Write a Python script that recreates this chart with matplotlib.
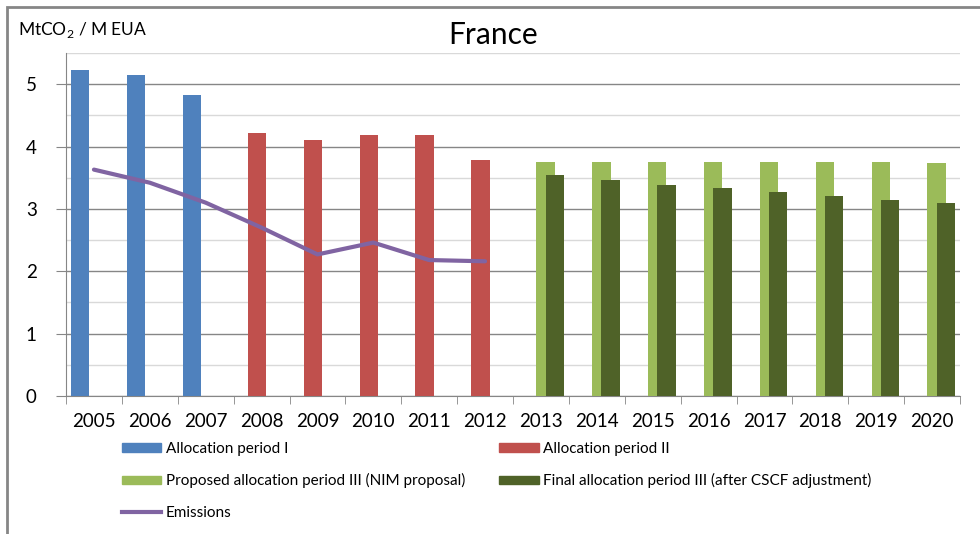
import numpy as np
import matplotlib
matplotlib.use("Agg")
import matplotlib.pyplot as plt
from matplotlib.patches import Patch, Rectangle
from matplotlib.lines import Line2D

plt.rcParams['font.family'] = ['Lato', 'DejaVu Sans']
plt.rcParams['mathtext.fontset'] = 'custom'
plt.rcParams['mathtext.rm'] = 'Lato'

# data
years = ['2005', '2006', '2007', '2008', '2009', '2010', '2011', '2012',
         '2013', '2014', '2015', '2016', '2017', '2018', '2019', '2020']
alloc_1 = [5.22, 5.14, 4.83] + [None] * 13
alloc_2 = [None] * 3 + [4.21, 4.10, 4.18, 4.18, 3.79] + [None] * 8
proposed_3 = [None] * 8 + [3.75, 3.75, 3.75, 3.75, 3.75, 3.75, 3.75, 3.73]
final_3 = [None] * 8 + [3.54, 3.46, 3.39, 3.34, 3.27, 3.21, 3.15, 3.09]
emissions = [3.63, 3.42, 3.10, 2.70, 2.27, 2.46, 2.18, 2.16] + [None] * 8

series = [
    ('Allocation period I', alloc_1, '#4F81BD'),
    ('Allocation period II', alloc_2, '#C0504D'),
    ('Proposed allocation period III (NIM proposal)', proposed_3, '#9BBB59'),
    ('Final allocation period III (after CSCF adjustment)', final_3, '#4F6228'),
]
line_color = '#8064A2'

fig = plt.figure(figsize=(9.8, 5.34), dpi=100)
ax = fig.add_axes([66 / 980, 1 - 396 / 534, 894 / 980, 343 / 534])

# outer chart frame
fig.patches.append(Rectangle((7 / 980, -0.1), 1.1, 1 - 7 / 534 + 0.1,
                             transform=fig.transFigure, fill=False,
                             edgecolor='#868686', linewidth=2))

x = np.arange(len(years))
width = 0.33
offsets = [-0.247, -0.082, 0.082, 0.247]
for (label, vals, color), off in zip(series, offsets):
    idx = [i for i, v in enumerate(vals) if v is not None]
    ax.bar(x[idx] + off, [vals[i] for i in idx], width, color=color, zorder=3)

e_idx = [i for i, v in enumerate(emissions) if v is not None]
ax.plot(x[e_idx], [emissions[i] for i in e_idx], color=line_color, lw=3, zorder=4,
        solid_capstyle='round')

ax.set_xlim(-0.5, len(years) - 0.5)
ax.set_ylim(0, 5.5)
ax.set_yticks(range(6))
ax.set_yticks(np.arange(0.5, 5.6, 1.0), minor=True)
ax.set_xticks(x)
ax.set_xticklabels(years)
ax.set_xticks(np.arange(-0.5, len(years), 1.0), minor=True)

ax.grid(axis='y', which='major', color='#868686', lw=1, zorder=0)
ax.grid(axis='y', which='minor', color='#D9D9D9', lw=1, zorder=0)
ax.tick_params(axis='x', which='major', length=0, pad=12, labelsize=13.5, colors='#000000')
ax.tick_params(axis='x', which='minor', length=6, color='#868686', labelbottom=False)
ax.tick_params(axis='y', which='major', length=7, color='#868686', pad=14, labelsize=13.5)
ax.tick_params(axis='y', which='minor', length=0)

for s in ['top', 'right']:
    ax.spines[s].set_visible(False)
for s in ['left', 'bottom']:
    ax.spines[s].set_color('#868686')

fig.text(493 / 980, 1 - 35 / 534, 'France', ha='center', va='center', fontsize=21.5)
fig.text(18 / 980, 1 - 30 / 534, 'MtCO$_2$ / M EUA', ha='left', va='center', fontsize=12.5)

handles = [Patch(color=series[0][2], label=series[0][0]),
           Patch(color=series[2][2], label=series[2][0]),
           Line2D([], [], color=line_color, lw=3, label='Emissions'),
           Patch(color=series[1][2], label=series[1][0]),
           Patch(color=series[3][2], label=series[3][0])]
fig.legend(handles=handles, ncol=2, loc='upper left', bbox_to_anchor=(108 / 980, 1 - 428 / 534),
           frameon=False, fontsize=11, handlelength=2.6, handleheight=0.5,
           handletextpad=0.3, labelspacing=1.15, columnspacing=2.2)

fig.savefig('out.png', dpi=100)
